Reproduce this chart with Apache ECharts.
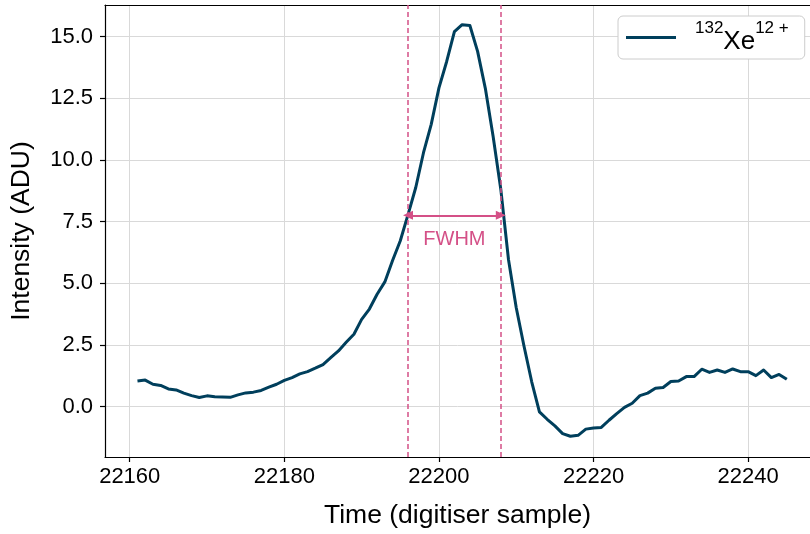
<!DOCTYPE html>
<html>
<head>
<meta charset="utf-8">
<script src="https://cdn.jsdelivr.net/npm/echarts@6/dist/echarts.min.js"></script>
<style>html,body{margin:0;padding:0;background:#fff}#c{width:810px;height:534px}</style>
</head>
<body>
<div id="c"></div>
<script>
// ---- data ----
const startSample = 22161;
const intensity = [
  1.03, 1.07, 0.90, 0.85, 0.71, 0.67, 0.54, 0.44, 0.36, 0.43,
  0.39, 0.38, 0.37, 0.47, 0.55, 0.58, 0.65, 0.78, 0.90, 1.06,
  1.17, 1.32, 1.41, 1.55, 1.70, 1.98, 2.25, 2.60, 2.93, 3.53,
  3.95, 4.55, 5.05, 5.92, 6.72, 7.78, 8.88, 10.29, 11.44, 12.92,
  13.99, 15.20, 15.48, 15.45, 14.40, 12.90, 10.97, 8.81, 5.95, 4.00,
  2.45, 1.00, -0.22, -0.52, -0.79, -1.10, -1.21, -1.17, -0.92, -0.87,
  -0.85, -0.56, -0.29, -0.04, 0.13, 0.44, 0.54, 0.74, 0.77, 1.01,
  1.03, 1.21, 1.21, 1.51, 1.38, 1.48, 1.38, 1.52, 1.41, 1.41,
  1.25, 1.48, 1.17, 1.30, 1.10
];
const samples = intensity.map((_, i) => startSample + i);
const fwhmEdges = [22196.0, 22208.0];
const halfMax = 7.75;
const xTicks = [22160, 22180, 22200, 22220, 22240];
const yTicks = [0, 2.5, 5, 7.5, 10, 12.5, 15];
const seriesName = 'Xe132';

const lineColor = '#003f5c';
const pink = '#d45087';
const FONT = '"Liberation Sans", Arial, Helvetica, sans-serif';
const X_MIN = 22156.8, X_MAX = 22248.0;
const Y_MIN = -2.05, Y_MAX = 16.28;

const chart = echarts.init(document.getElementById('c'), null, {renderer: 'canvas'});
const option = {
  animation: false,
  backgroundColor: '#fff',
  grid: {left: 105, right: 0, top: 5, bottom: 75, show: false},
  xAxis: [{
    type: 'value', min: X_MIN, max: X_MAX,
    name: 'Time (digitiser sample)', nameLocation: 'middle', nameGap: 45,
    nameTextStyle: {fontFamily: FONT, fontSize: 26.5, color: '#000'},
    axisLine: {show: true, onZero: false, lineStyle: {color: '#000', width: 1.2}},
    axisTick: {show: true, length: 5, inside: false, customValues: xTicks, lineStyle: {color: '#000', width: 1.2}},
    axisLabel: {customValues: xTicks, fontFamily: FONT, fontSize: 22, color: '#000', margin: 9,
      formatter: v => String(v)},
    splitLine: {show: true, lineStyle: {color: '#d9d9d9', width: 1}}
  }, {
    type: 'value', position: 'top', min: X_MIN, max: X_MAX,
    axisLine: {show: true, onZero: false, lineStyle: {color: '#000', width: 1.2}},
    axisTick: {show: false}, axisLabel: {show: false}, splitLine: {show: false}
  }],
  yAxis: {
    type: 'value', min: Y_MIN, max: Y_MAX,
    name: 'Intensity (ADU)', nameLocation: 'middle', nameGap: 70, nameRotate: 90,
    nameTextStyle: {fontFamily: FONT, fontSize: 26.5, color: '#000'},
    axisLine: {show: true, onZero: false, lineStyle: {color: '#000', width: 1.2}},
    axisTick: {show: true, length: 5, inside: false, customValues: yTicks, lineStyle: {color: '#000', width: 1.2}},
    axisLabel: {customValues: yTicks, fontFamily: FONT, fontSize: 22, color: '#000', margin: 12,
      formatter: v => v.toFixed(1)},
    splitLine: {show: true, lineStyle: {color: '#d9d9d9', width: 1}}
  },
  legend: {
    show: true, left: 618, top: 16, orient: 'vertical',
    padding: [4, 16, 4, 8], itemGap: 0,
    backgroundColor: '#fff', borderColor: '#cccccc', borderWidth: 1, borderRadius: 5,
    itemWidth: 50, itemHeight: 3, icon: 'rect',
    data: [{name: seriesName, icon: 'rect'}],
    formatter: () => '{sup|132}{base|Xe}{sup|12 +}',
    textStyle: {
      fontFamily: FONT, color: '#000', padding: [0, 0, 0, 14],
      rich: {
        sup: {fontSize: 17, fontFamily: FONT, color: '#000', verticalAlign: 'top', lineHeight: 35},
        base: {fontSize: 26, fontFamily: FONT, color: '#000', verticalAlign: 'bottom', lineHeight: 35}
      }
    }
  },
  series: [{
    name: seriesName,
    type: 'line',
    xAxisIndex: 0,
    data: samples.map((s, i) => [s, intensity[i]]),
    showSymbol: false,
    lineStyle: {color: lineColor, width: 3, join: 'round'},
    itemStyle: {color: lineColor},
    z: 3,
    markLine: {
      silent: true, animation: false,
      precision: 3,
      data: [
        {xAxis: fwhmEdges[0], symbol: 'none', lineStyle: {color: pink, width: 1.5, type: [5, 3]}, label: {show: false}},
        {xAxis: fwhmEdges[1], symbol: 'none', lineStyle: {color: pink, width: 1.5, type: [5, 3]}, label: {show: false}},
        [
          {coord: [fwhmEdges[0], halfMax], symbol: 'triangle', symbolSize: [9, 10]},
          {coord: [fwhmEdges[1], halfMax], symbol: 'triangle', symbolSize: [9, 10],
           lineStyle: {color: pink, width: 2, type: 'solid'},
           label: {show: true, formatter: 'FWHM', position: 'insideMiddleBottom', distance: 14,
             color: pink, fontFamily: FONT, fontSize: 20}}
        ]
      ],
      lineStyle: {color: pink, width: 2, type: 'solid'},
      itemStyle: {color: pink},
      symbol: ['none', 'none']
    }
  }]
};
chart.setOption(option);
</script>
</body>
</html>
